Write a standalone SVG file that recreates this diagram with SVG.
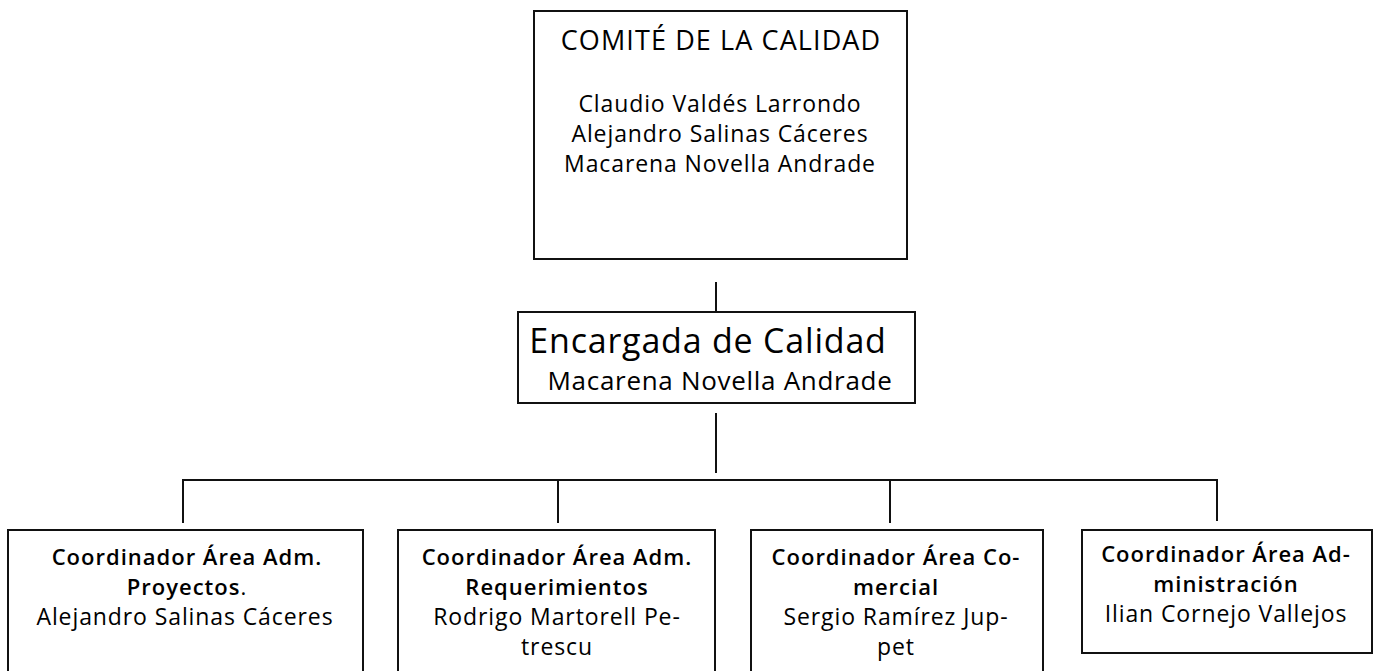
<svg xmlns="http://www.w3.org/2000/svg" width="1375" height="671" viewBox="0 0 1375 671">
<style>
.box{fill:#fff;stroke:#111;stroke-width:2}
.ln{stroke:#111;stroke-width:2;fill:none}
text{font-family:"Open Sans","Noto Sans",sans-serif;fill:#000;text-anchor:middle}
.t1{font-size:27px;letter-spacing:1.1px}
.nm{font-size:23px;letter-spacing:0.9px}
.t2{font-size:34px;letter-spacing:0.8px}
.nm2{font-size:26px;letter-spacing:0.7px}
.bt{font-size:22px;font-weight:600;letter-spacing:1px}
</style>
<rect width="1375" height="671" fill="#fff"/>
<g id="connectors">
<line class="ln" x1="716" y1="282" x2="716" y2="311"/>
<line class="ln" x1="716" y1="413" x2="716" y2="473"/>
<line class="ln" x1="182" y1="480" x2="1218" y2="480"/>
<line class="ln" x1="183" y1="480" x2="183" y2="523"/>
<line class="ln" x1="558" y1="480" x2="558" y2="523"/>
<line class="ln" x1="890" y1="480" x2="890" y2="523"/>
<line class="ln" x1="1217" y1="480" x2="1217" y2="521"/>
</g>
<g id="comite">
<rect class="box" x="534" y="11" width="373" height="248"/>
<text class="t1" x="721" y="50">COMITÉ DE LA CALIDAD</text>
<text class="nm" x="720" y="112">Claudio Valdés Larrondo</text>
<text class="nm" x="720" y="142">Alejandro Salinas Cáceres</text>
<text class="nm" x="720" y="172">Macarena Novella Andrade</text>
</g>
<g id="encargada">
<rect class="box" x="518" y="312" width="397" height="91"/>
<text class="t2" x="708" y="353">Encargada de Calidad</text>
<text class="nm2" x="720" y="390">Macarena Novella Andrade</text>
</g>
<g id="proyectos">
<rect class="box" x="8" y="530" width="355" height="160"/>
<text class="bt" x="187" y="565">Coordinador Área Adm.</text>
<text class="bt" x="187" y="595">Proyectos<tspan font-weight="normal">.</tspan></text>
<text class="nm" x="185" y="625">Alejandro Salinas Cáceres</text>
</g>
<g id="requerimientos">
<rect class="box" x="398" y="530" width="317" height="160"/>
<text class="bt" x="557" y="565">Coordinador Área Adm.</text>
<text class="bt" x="557" y="595">Requerimientos</text>
<text class="nm" x="557" y="625">Rodrigo Martorell Pe-</text>
<text class="nm" x="557" y="655">trescu</text>
</g>
<g id="comercial">
<rect class="box" x="751" y="530" width="292" height="160"/>
<text class="bt" x="896" y="565">Coordinador Área Co-</text>
<text class="bt" x="896" y="595">mercial</text>
<text class="nm" x="896" y="625">Sergio Ramírez Jup-</text>
<text class="nm" x="896" y="655">pet</text>
</g>
<g id="administracion">
<rect class="box" x="1082" y="530" width="290" height="123"/>
<text class="bt" x="1226" y="562">Coordinador Área Ad-</text>
<text class="bt" x="1226" y="592">ministración</text>
<text class="nm" x="1226" y="622">Ilian Cornejo Vallejos</text>
</g>
</svg>
